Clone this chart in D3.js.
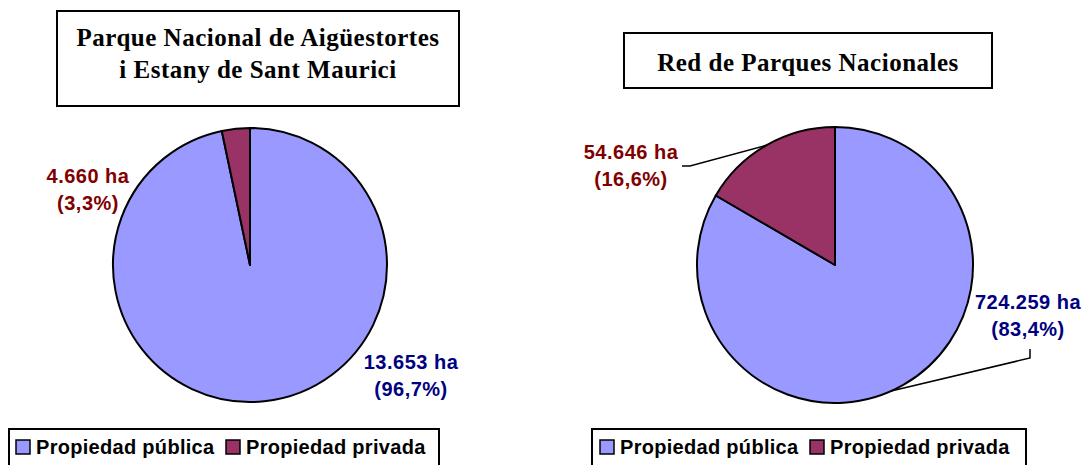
<!DOCTYPE html>
<html>
<head>
<meta charset="utf-8">
<script src="https://cdn.jsdelivr.net/npm/d3@7/dist/d3.min.js"></script>
<style>
  body { margin: 0; background: #fff; }
  svg { display: block; }
</style>
</head>
<body>
<svg id="chart" width="1085" height="465"></svg>
<script>
// categories shared by both pies
var categories = ["Propiedad pública", "Propiedad privada"];

// Parque Nacional de Aigüestortes i Estany de Sant Maurici
var aigTitle = ["Parque Nacional de Aigüestortes", "i Estany de Sant Maurici"];
var aigHectares = ["13.653", "4.660"];
var aigPercent = [96.7, 3.3];

// Red de Parques Nacionales
var redTitle = ["Red de Parques Nacionales"];
var redHectares = ["724.259", "54.646"];
var redPercent = [83.4, 16.6];

var colors = ["#9999ff", "#993366"];
var labelColors = ["#000080", "#800000"];

var svg = d3.select("#chart");

var pie = d3.pie().sort(null).startAngle(0).endAngle(2 * Math.PI);

function fmtPct(v) {
    return "(" + d3.format(".1f")(v).replace(".", ",") + "%)";
}

function drawChart(cfg) {
    var g = svg.append("g");

    // title box
    g.append("rect")
        .attr("x", cfg.titleBox[0]).attr("y", cfg.titleBox[1])
        .attr("width", cfg.titleBox[2]).attr("height", cfg.titleBox[3])
        .attr("fill", "#fff").attr("stroke", "#000").attr("stroke-width", 2);
    g.selectAll("text.title")
        .data(cfg.title)
        .enter()
        .append("text")
        .attr("class", "title")
        .attr("x", cfg.titleBox[0] + cfg.titleBox[2] / 2)
        .attr("y", function(d, i){ return cfg.titleY + i * 32; })
        .attr("text-anchor", "middle")
        .style("font-family", "'Liberation Serif', 'Times New Roman', serif")
        .style("font-weight", "bold")
        .style("font-size", "25px")
        .style("letter-spacing", "0.5px")
        .text(function(d){ return d; });

    // pie
    var r = cfg.radius;
    var arc = d3.arc().innerRadius(0).outerRadius(r);
    var arcs = pie(cfg.percent);
    var pg = g.append("g").attr("transform", "translate(" + cfg.cx + "," + cfg.cy + ")");
    pg.selectAll("path")
        .data(arcs)
        .enter()
        .append("path")
        .attr("d", arc)
        .attr("fill", function(d, i){ return colors[i]; })
        .attr("stroke", "#000")
        .attr("stroke-width", 2)
        .attr("stroke-linejoin", "round");

    // leader lines (only where the label sits away from the pie)
    if (cfg.leaders) {
        cfg.leaders.forEach(function(l, i){
            var a = l.angle === undefined ? (arcs[i].startAngle + arcs[i].endAngle) / 2 : l.angle;
            var p0 = [cfg.cx + r * Math.sin(a), cfg.cy - r * Math.cos(a)];
            g.append("path")
                .attr("d", d3.line()([p0].concat(l.points)))
                .attr("fill", "none")
                .attr("stroke", "#000")
                .attr("stroke-width", 1.5);
        });
    }

    // data labels
    cfg.percent.forEach(function(v, i){
        var t = g.append("text")
            .attr("x", cfg.labels[i][0])
            .attr("y", cfg.labels[i][1])
            .attr("text-anchor", "middle")
            .attr("fill", labelColors[i])
            .style("font-family", "'Liberation Sans', Arial, sans-serif")
            .style("font-weight", "bold")
            .style("font-size", "20px")
            .style("letter-spacing", "0.5px");
        t.append("tspan").attr("x", cfg.labels[i][0]).text(cfg.hectares[i] + " ha");
        t.append("tspan").attr("x", cfg.labels[i][0]).attr("dy", 27).text(fmtPct(v));
    });

    // legend
    var lb = cfg.legendBox;
    g.append("rect")
        .attr("x", lb[0]).attr("y", lb[1]).attr("width", lb[2]).attr("height", 50)
        .attr("fill", "#fff").attr("stroke", "#000").attr("stroke-width", 2);
    var items = g.selectAll("g.leg")
        .data(categories)
        .enter()
        .append("g")
        .attr("class", "leg")
        .attr("transform", function(d, i){ return "translate(" + cfg.legendX[i] + "," + (lb[1] + 11) + ")"; });
    items.append("rect")
        .attr("width", 14).attr("height", 14)
        .attr("fill", function(d, i){ return colors[i]; })
        .attr("stroke", "#000").attr("stroke-width", 1.5);
    items.append("text")
        .attr("x", 20).attr("y", 14)
        .style("font-family", "'Liberation Sans', Arial, sans-serif")
        .style("font-weight", "bold")
        .style("font-size", "20px")
        .style("letter-spacing", "0.3px")
        .text(function(d){ return d; });
}

drawChart({
    title: aigTitle, titleBox: [57, 11, 402, 95], titleY: 46,
    percent: aigPercent, hectares: aigHectares,
    cx: 250, cy: 265, radius: 137,
    labels: [[411, 369], [88, 183]],
    legendBox: [9, 429, 430], legendX: [16, 226]
});

drawChart({
    title: redTitle, titleBox: [624, 33, 368, 55], titleY: 71,
    percent: redPercent, hectares: redHectares,
    cx: 835, cy: 265, radius: 138,
    labels: [[1028, 309], [631, 159]],
    leaders: [
        { angle: 156 * Math.PI / 180, points: [[1030, 358], [1030, 349]] },
        { points: [[690, 166], [682, 166]] }
    ],
    legendBox: [592, 429, 434], legendX: [600, 810]
});
</script>
</body>
</html>
